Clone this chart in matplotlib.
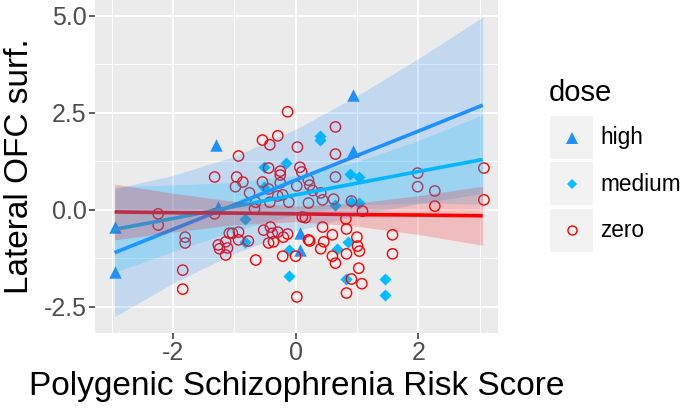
import numpy as np
import matplotlib.pyplot as plt
from matplotlib.lines import Line2D
from matplotlib.patches import Rectangle

plt.rcParams['font.family'] = ['Liberation Sans', 'DejaVu Sans']

# scatter points
high_x = [-2.94, -2.94, -1.29, -1.27, 0.08, 0.07, 0.93, 0.93]
high_y = [-0.43, -1.60, 1.68, 0.08, -0.60, -1.03, 2.96, 1.52]

medium_x = [-0.52, -0.16, 0.40, 0.40, 0.88, 1.03, -0.82, -0.82, -0.11, -0.11,
            0.85, 0.67, 0.83, 1.45, 1.45, 0.65, 0.90, 1.03, -0.52]
medium_y = [1.11, 1.21, 1.90, 1.80, 0.93, 0.85, -0.24, -0.83, -1.03, -1.70,
            -0.83, -1.00, -1.78, -1.78, -2.20, 0.13, 0.20, 0.18, 0.60]

zero_x = [-2.24, -2.24, -1.84, -1.84, -1.80, -1.80, -1.32, -1.32, -1.26, -1.24,
          -1.14, -1.14, -1.08, -1.11, -1.03, -0.98, -0.96, -0.93, -0.93, -0.93,
          -0.86, -0.77, -0.75, -0.67, -0.65, -0.65, -0.54, -0.54, -0.52, -0.44,
          -0.44, -0.44, -0.42, -0.42, -0.41, -0.38, -0.36, -0.29, -0.29, -0.29,
          -0.25, -0.25, -0.25, -0.21, -0.20, -0.21, -0.13, -0.13, -0.11, 0.00,
          0.02, 0.02, 0.03, 0.07, 0.10, 0.11, 0.16, 0.21, 0.21, 0.21,
          0.23, 0.23, 0.28, 0.41, 0.41, 0.44, 0.44, 0.46, 0.60, 0.60,
          0.62, 0.65, 0.65, 0.65, 0.65, 0.82, 0.83, 0.83, 0.83, 0.91,
          0.91, 1.00, 1.01, 1.04, 1.03, 1.08, 1.09, 1.58, 1.58, 1.99,
          1.99, 2.27, 2.27, 3.07, 3.07]
zero_y = [-0.10, -0.39, -1.55, -2.04, -0.70, -0.85, 0.85, -0.10, -0.90, -1.00,
          -1.16, -0.82, -0.60, -0.98, -0.60, 0.60, 0.85, 1.39, -0.57, -0.77,
          0.72, -0.80, 0.44, 0.03, 0.20, -1.29, 1.80, 0.72, -0.52, 1.08,
          0.54, -0.85, 1.68, 0.20, -0.44, -0.60, -0.82, 1.91, 0.36, -0.57,
          0.90, 0.70, 1.00, 0.39, -0.70, -1.19, 2.53, -0.62, 0.20, -1.19,
          -2.24, 0.62, 1.62, 1.10, 0.98, -0.18, -0.20, 0.77, 0.18, -0.77,
          0.64, -0.80, 0.50, 0.44, -1.00, 0.26, -0.44, -0.82, -0.64, -1.19,
          0.28, 2.14, 1.44, 0.85, -1.37, -0.23, -0.49, -1.13, -2.14, 0.23,
          -1.78, -0.70, -0.93, -1.06, -1.50, -1.90, -0.03, -0.64, -1.13, 0.95,
          0.60, 0.49, 0.10, 1.08, 0.26]

# fitted lines and confidence bands
fit_x = [-2.95, -2.0, -1.0, 0.0, 1.0, 2.0, 3.05]
high_fit = [-1.10, -0.50, 0.13, 0.77, 1.40, 2.03, 2.70]
high_lo = [-2.75, -1.89, -1.12, -0.54, -0.14, 0.16, 0.43]
high_hi = [0.55, 0.89, 1.38, 2.08, 2.94, 3.90, 4.97]
medium_fit = [-0.50, -0.22, 0.09, 0.39, 0.69, 0.99, 1.30]
medium_lo = [-1.60, -1.07, -0.54, -0.12, 0.13, 0.18, 0.15]
medium_hi = [0.60, 0.64, 0.71, 0.89, 1.24, 1.79, 2.45]
zero_fit = [-0.05, -0.07, -0.08, -0.10, -0.12, -0.13, -0.15]
zero_lo = [-0.77, -0.57, -0.38, -0.30, -0.42, -0.63, -0.91]
zero_hi = [0.67, 0.43, 0.22, 0.10, 0.18, 0.37, 0.61]

col_high = '#1E90FF'
col_medium = '#00BFFF'
col_zero = '#FF0000'

fig = plt.figure(figsize=(6.85, 4.09), dpi=100)
ax = fig.add_axes([95/685, 1 - 333/409, 403/685, 333/409])
ax.set_facecolor('#EBEBEB')
for s in ax.spines.values():
    s.set_visible(False)

ax.set_xlim(-3.27, 3.30)
ax.set_ylim(-3.17, 5.41)
ax.set_xticks([-2, 0, 2])
ax.set_xticklabels(['-2', '0', '2'])
ax.set_yticks([-2.5, 0.0, 2.5, 5.0])
ax.set_yticklabels(['-2.5', '0.0', '2.5', '5.0'])
ax.set_xticks([-3, -1, 1, 3], minor=True)
ax.set_yticks([-1.25, 1.25, 3.75], minor=True)
ax.grid(True, which='major', color='white', lw=1.4, zorder=0)
ax.grid(True, which='minor', color='white', lw=0.7, zorder=0)
ax.set_axisbelow(True)
ax.tick_params(which='major', length=4, width=1.1, color='#333333',
               labelsize=18, labelcolor='#4D4D4D', pad=2)
ax.tick_params(which='minor', length=0)

# points first, then lines, then the ribbons on top
ax.scatter(high_x, high_y, marker='^', s=80, color=col_high, lw=0, zorder=2)
ax.scatter(medium_x, medium_y, marker='D', s=38, color=col_medium, lw=0, zorder=2)
ax.scatter(zero_x, zero_y, marker='o', s=55, facecolors='none',
           edgecolors=col_zero, lw=1.0, zorder=2)

for fy, c in [(high_fit, col_high), (medium_fit, col_medium), (zero_fit, col_zero)]:
    ax.plot(fit_x, fy, color=c, lw=2.6, zorder=3, solid_capstyle='butt')
for lo, hi, c in [(high_lo, high_hi, col_high), (medium_lo, medium_hi, col_medium),
                  (zero_lo, zero_hi, col_zero)]:
    ax.fill_between(fit_x, lo, hi, color=c, alpha=0.2, lw=0, zorder=4)

ax.set_xlabel('Polygenic Schizophrenia Risk Score', fontsize=24, labelpad=4)
ax.set_ylabel('Lateral OFC surf.', fontsize=24, labelpad=6)

# legend drawn by hand in figure pixels
W, H = 685, 409
fig.text(549/W, 1 - 93/H, 'dose', fontsize=21, va='center', ha='left')
keys = [('high', '^', col_high, 9, True),
        ('medium', 'D', col_medium, 5.5, True),
        ('zero', 'o', col_zero, 6.5, False)]
for i, (lab, m, c, ms, filled) in enumerate(keys):
    top = 116 + i * 46.5
    fig.add_artist(Rectangle((550/W, 1 - (top + 43)/H), 43/W, 43/H,
                             facecolor='#F2F2F2', edgecolor='none'))
    cy = 1 - (top + 21.5)/H
    fig.add_artist(Line2D([571.5/W], [cy], marker=m, ms=ms, color=c,
                          markerfacecolor=c if filled else 'none',
                          markeredgewidth=0 if filled else 1.0, lw=0))
    fig.text(600/W, cy, lab, fontsize=16.3, va='center', ha='left')

fig.savefig('out.png', dpi=100)
